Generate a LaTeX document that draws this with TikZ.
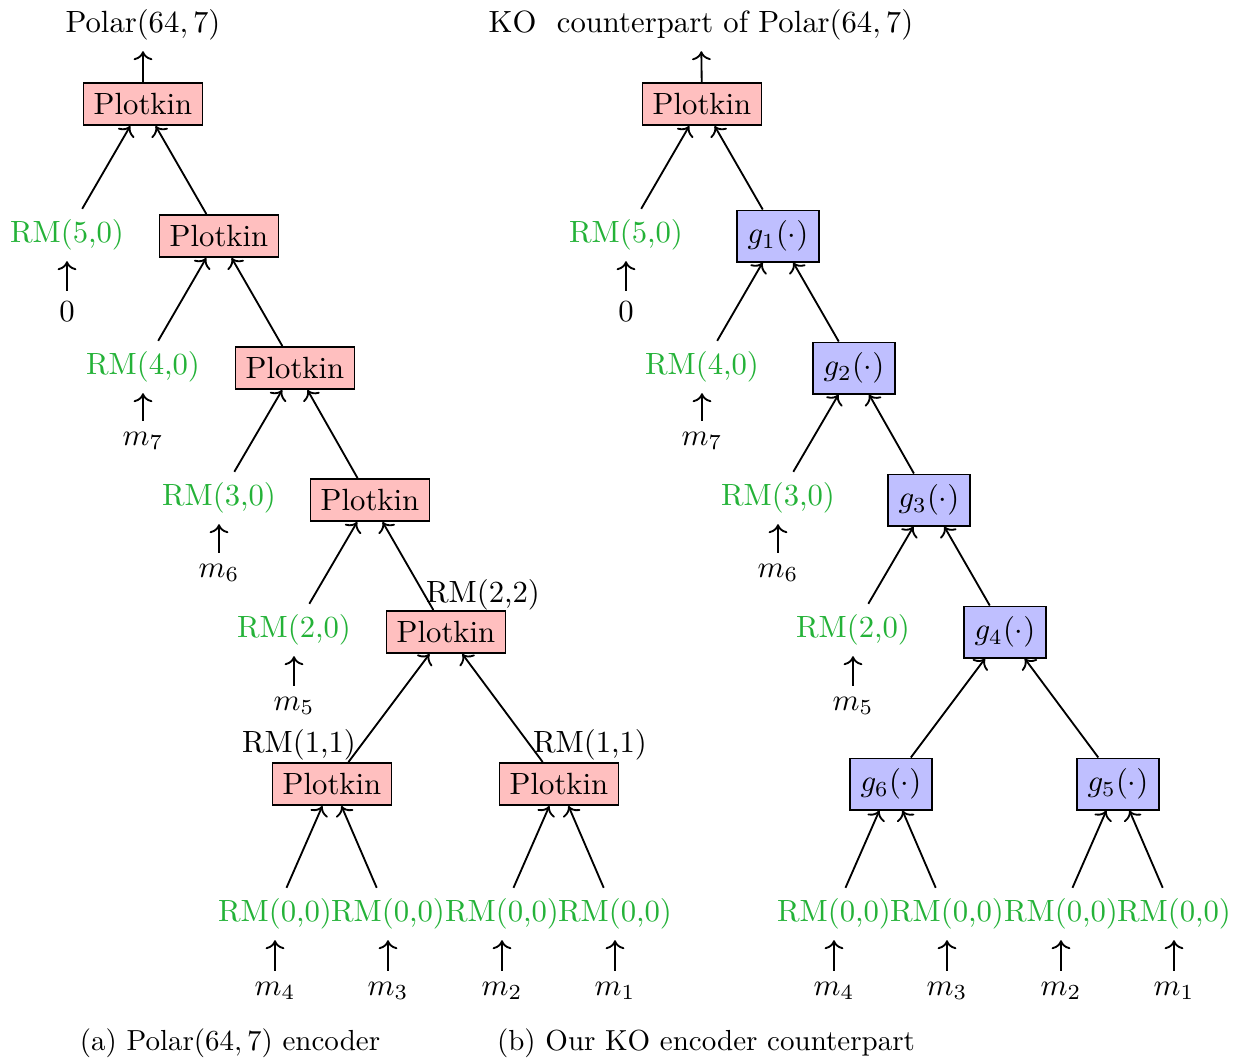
\documentclass[tikz,border=0pt]{standalone}
\usetikzlibrary{arrows.meta}
\definecolor{rmgreen}{RGB}{36,178,56}
\definecolor{plotkinfill}{RGB}{255,191,191}
\definecolor{gfill}{RGB}{191,191,255}
\begin{document}
\begin{tikzpicture}[x=0.3257pt, y=-0.3257pt,
  plotkin/.style={draw, line width=0.6pt, fill=plotkinfill},
  gbox/.style={draw, line width=0.6pt, fill=gfill},
  rm/.style={text=rmgreen},
  edge/.style={line width=0.6pt, <-},
  caption/.style={scale=0.945},
  every node/.style={inner sep=0.3333em}]
\useasboundingbox (0,0) rectangle (1235,1059);

% ---------- (a) Polar(64,7) encoder ----------
\node (ta) at (143,25) {$\mathrm{Polar}(64,7)$};
\node[plotkin] (a1) at (143,104) {Plotkin};
\node[rm] (ar5) at (67,235) {RM(5,0)};
\node (az) at (67,312) {$0$};
\node[plotkin] (a2) at (219,236) {Plotkin};
\node[rm] (ar4) at (143,367) {RM(4,0)};
\node (am7) at (143,441) {$m_7$};
\node[plotkin] (a3) at (295,368) {Plotkin};
\node[rm] (ar3) at (219,498) {RM(3,0)};
\node (am6) at (219,573) {$m_6$};
\node[plotkin] (a4) at (370,500) {Plotkin};
\node[rm] (ar2) at (294,630) {RM(2,0)};
\node (am5) at (294,706) {$m_5$};
\node[plotkin] (a5) at (446,632) {Plotkin};
\node (al5) at (483,595) {RM(2,2)};
\node[plotkin] (a6) at (332,784) {Plotkin};
\node (al6) at (299,745) {RM(1,1)};
\node[plotkin] (a7) at (559,784) {Plotkin};
\node (al7) at (590,745) {RM(1,1)};
\node[rm] (al1) at (275,914) {RM(0,0)};
\node[rm] (al2) at (388,914) {RM(0,0)};
\node[rm] (al3) at (502,914) {RM(0,0)};
\node[rm] (al4) at (615,914) {RM(0,0)};
\node (am4) at (275,991) {$m_4$};
\node (am3) at (388,991) {$m_3$};
\node (am2) at (502,991) {$m_2$};
\node (am1) at (615,991) {$m_1$};

\draw[edge] (ta) -- (a1);
\draw[edge] (a1) -- (ar5);
\draw[edge] (a1) -- (a2);
\draw[edge] (ar5) -- (az);
\draw[edge] (a2) -- (ar4);
\draw[edge] (a2) -- (a3);
\draw[edge] (ar4) -- (am7);
\draw[edge] (a3) -- (ar3);
\draw[edge] (a3) -- (a4);
\draw[edge] (ar3) -- (am6);
\draw[edge] (a4) -- (ar2);
\draw[edge] (a4) -- (a5);
\draw[edge] (ar2) -- (am5);
\draw[edge] (a5) -- (a6);
\draw[edge] (a5) -- (a7);
\draw[edge] (a6) -- (al1);
\draw[edge] (a6) -- (al2);
\draw[edge] (a7) -- (al3);
\draw[edge] (a7) -- (al4);
\draw[edge] (al1) -- (am4);
\draw[edge] (al2) -- (am3);
\draw[edge] (al3) -- (am2);
\draw[edge] (al4) -- (am1);

\node[caption] (capa) at (230,1043) {(a) Polar$(64,7)$ encoder};

% ---------- (b) KO encoder counterpart ----------
\node (tb) at (701,25) {KO\ \ counterpart of $\mathrm{Polar}(64,7)$};
\node[plotkin] (b0) at (702,104) {Plotkin};
\node[rm] (br5) at (626,235) {RM(5,0)};
\node (bz) at (626,312) {$0$};
\node[gbox] (g1) at (778,236) {$g_1(\cdot)$};
\node[rm] (br4) at (702,367) {RM(4,0)};
\node (bm7) at (702,441) {$m_7$};
\node[gbox] (g2) at (854,368) {$g_2(\cdot)$};
\node[rm] (br3) at (778,498) {RM(3,0)};
\node (bm6) at (778,573) {$m_6$};
\node[gbox] (g3) at (929,500) {$g_3(\cdot)$};
\node[rm] (br2) at (853,630) {RM(2,0)};
\node (bm5) at (853,706) {$m_5$};
\node[gbox] (g4) at (1005,632) {$g_4(\cdot)$};
\node[gbox] (g6) at (891,784) {$g_6(\cdot)$};
\node[gbox] (g5) at (1118,784) {$g_5(\cdot)$};
\node[rm] (bl1) at (834,914) {RM(0,0)};
\node[rm] (bl2) at (947,914) {RM(0,0)};
\node[rm] (bl3) at (1061,914) {RM(0,0)};
\node[rm] (bl4) at (1174,914) {RM(0,0)};
\node (bm4) at (834,991) {$m_4$};
\node (bm3) at (947,991) {$m_3$};
\node (bm2) at (1061,991) {$m_2$};
\node (bm1) at (1174,991) {$m_1$};

\draw[edge] (tb) -- (b0);
\draw[edge] (b0) -- (br5);
\draw[edge] (b0) -- (g1);
\draw[edge] (br5) -- (bz);
\draw[edge] (g1) -- (br4);
\draw[edge] (g1) -- (g2);
\draw[edge] (br4) -- (bm7);
\draw[edge] (g2) -- (br3);
\draw[edge] (g2) -- (g3);
\draw[edge] (br3) -- (bm6);
\draw[edge] (g3) -- (br2);
\draw[edge] (g3) -- (g4);
\draw[edge] (br2) -- (bm5);
\draw[edge] (g4) -- (g6);
\draw[edge] (g4) -- (g5);
\draw[edge] (g6) -- (bl1);
\draw[edge] (g6) -- (bl2);
\draw[edge] (g5) -- (bl3);
\draw[edge] (g5) -- (bl4);
\draw[edge] (bl1) -- (bm4);
\draw[edge] (bl2) -- (bm3);
\draw[edge] (bl3) -- (bm2);
\draw[edge] (bl4) -- (bm1);

\node[caption] (capb) at (706,1043) {(b) Our KO encoder counterpart};
\end{tikzpicture}
\end{document}
